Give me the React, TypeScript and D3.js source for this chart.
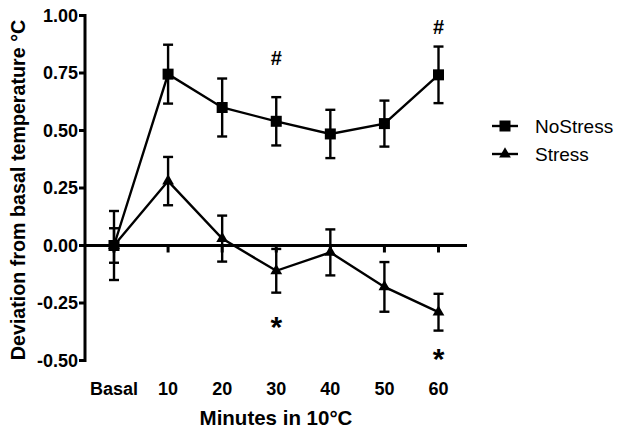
import React from "react";
import * as d3 from "d3";

const categories = ["Basal", "10", "20", "30", "40", "50", "60"];
const noStressMean = [0.0, 0.745, 0.6, 0.54, 0.485, 0.53, 0.742];
const noStressErr = [0.15, 0.128, 0.126, 0.105, 0.105, 0.1, 0.123];
const stressMean = [0.0, 0.28, 0.03, -0.11, -0.03, -0.18, -0.29];
const stressErr = [0.075, 0.105, 0.1, 0.095, 0.1, 0.108, 0.08];
const yTicks = [1.0, 0.75, 0.5, 0.25, 0.0, -0.25, -0.5];
const hashMarks = [{ cat: "30", value: 0.815 }, { cat: "60", value: 0.95 }];
const starMarks = [{ cat: "30", value: -0.33 }, { cat: "60", value: -0.47 }];

const FONT = "'Liberation Sans', Arial, sans-serif";

export default function App() {
  const W = 624, H = 433;
  const x0 = 85, x1 = 467;
  const y = d3.scaleLinear().domain([-0.5, 1.0]).range([360.5, 15.5]);
  const x = d3.scalePoint().domain(categories).range([114, 438.5]);
  const lineGen = d3.line<number>().x((_, i) => x(categories[i])!).y((d) => y(d));
  const tri = d3.symbol().type(d3.symbolTriangle).size(60)();
  const cap = 5;

  const errBars = (means: number[], errs: number[]) =>
    means.map((m, i) => {
      const cx = x(categories[i])!;
      return (
        <g key={i} stroke="#000" strokeWidth={2.4}>
          <line x1={cx} x2={cx} y1={y(m + errs[i])} y2={y(m - errs[i])} />
          <line x1={cx - cap} x2={cx + cap} y1={y(m + errs[i])} y2={y(m + errs[i])} />
          <line x1={cx - cap} x2={cx + cap} y1={y(m - errs[i])} y2={y(m - errs[i])} />
        </g>
      );
    });

  return (
    <svg width={W} height={H} style={{ position: "absolute", left: 0, top: 0, background: "#fff" }}>
      {/* y axis */}
      <line x1={x0} x2={x0} y1={y(1.0) - 1.5} y2={y(-0.5) + 1.5} stroke="#000" strokeWidth={3} />
      {yTicks.map((t) => (
        <g key={t}>
          <line x1={x0 - 6} x2={x0} y1={y(t)} y2={y(t)} stroke="#000" strokeWidth={3} />
          <text x={x0 - 7} y={y(t)} dy="0.36em" textAnchor="end" fontFamily={FONT} fontWeight="bold" fontSize={18}>
            {t.toFixed(2)}
          </text>
        </g>
      ))}
      {/* zero line as x axis */}
      <line x1={x0} x2={x1} y1={y(0)} y2={y(0)} stroke="#000" strokeWidth={3} />
      {categories.map((c) => (
        <g key={c}>
          <line x1={x(c)!} x2={x(c)!} y1={y(0)} y2={y(0) + 7} stroke="#000" strokeWidth={3} />
          <text x={x(c)!} y={389} dy="0.36em" textAnchor="middle" fontFamily={FONT} fontWeight="bold" fontSize={18}>
            {c}
          </text>
        </g>
      ))}
      <text x={276} y={418} dy="0.36em" textAnchor="middle" fontFamily={FONT} fontWeight="bold" fontSize={20.5}>
        Minutes in 10°C
      </text>
      <text transform={`translate(18,190) rotate(-90)`} dy="0.36em" textAnchor="middle" fontFamily={FONT} fontWeight="bold" fontSize={19.7}>
        Deviation from basal temperature °C
      </text>

      {/* series */}
      <path d={lineGen(noStressMean)!} fill="none" stroke="#000" strokeWidth={2.4} />
      <path d={lineGen(stressMean)!} fill="none" stroke="#000" strokeWidth={2.4} />
      {errBars(noStressMean, noStressErr)}
      {errBars(stressMean, stressErr)}
      {noStressMean.map((m, i) => (
        <rect key={i} x={x(categories[i])! - 5.5} y={y(m) - 5.5} width={11} height={11} fill="#000" />
      ))}
      {stressMean.map((m, i) => (
        <path key={i} d={tri!} transform={`translate(${x(categories[i])},${y(m)})`} fill="#000" />
      ))}

      {/* annotations */}
      {hashMarks.map((h) => (
        <text key={h.cat} x={x(h.cat)!} y={y(h.value)} dy="0.36em" textAnchor="middle" fontFamily={FONT} fontWeight="bold" fontSize={20}>#</text>
      ))}
      {starMarks.map((s) => (
        <text key={s.cat} x={x(s.cat)!} y={y(s.value) + 5} dy="0.36em" textAnchor="middle" fontFamily={FONT} fontWeight="bold" fontSize={30}>*</text>
      ))}

      {/* legend */}
      <g>
        <line x1={492} x2={518} y1={126} y2={126} stroke="#000" strokeWidth={2.4} />
        <rect x={499.5} y={120.5} width={11} height={11} fill="#000" />
        <text x={535} y={126} dy="0.36em" fontFamily={FONT} fontSize={19}>NoStress</text>
        <line x1={492} x2={518} y1={154} y2={154} stroke="#000" strokeWidth={2.4} />
        <path d={tri!} transform="translate(505,154)" fill="#000" />
        <text x={535} y={154} dy="0.36em" fontFamily={FONT} fontSize={19}>Stress</text>
      </g>
    </svg>
  );
}
